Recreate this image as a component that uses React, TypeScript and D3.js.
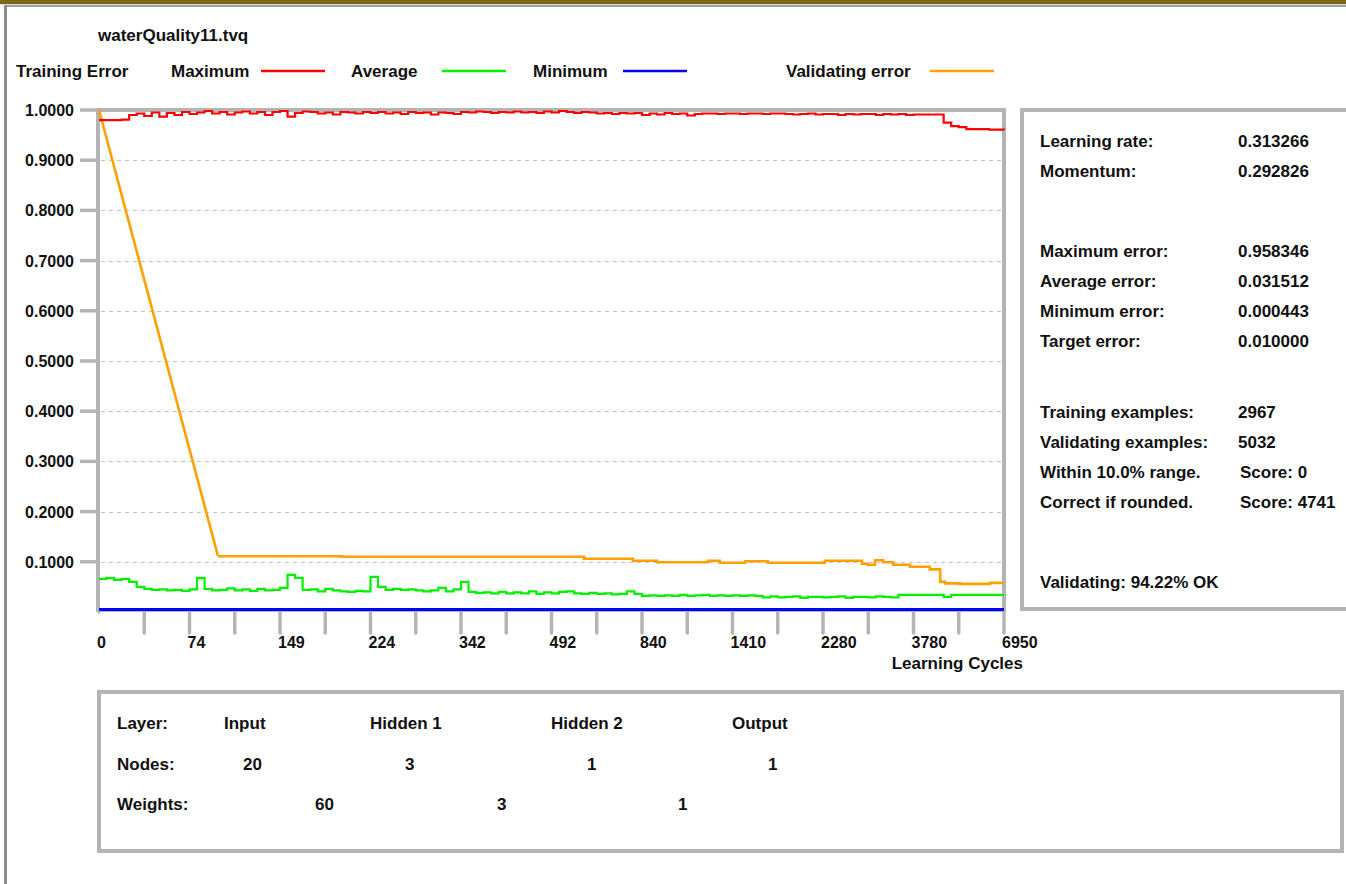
import * as d3 from "d3";

// x positions are in axis-tick units (0..20), the cycle axis is not linear
const xTickLabels = ["0", "74", "149", "224", "342", "492", "840", "1410", "2280", "3780", "6950"];
const yTickValues = [0.1, 0.2, 0.3, 0.4, 0.5, 0.6, 0.7, 0.8, 0.9, 1.0];

// training error, sampled every 1/6 tick
const maxError = [
  0.980, 0.980, 0.980, 0.981, 0.990, 0.993, 0.988, 0.995, 0.987, 0.994,
  0.990, 0.996, 0.992, 0.995, 0.998, 0.993, 0.996, 0.991, 0.995, 0.997,
  0.993, 0.996, 0.990, 0.996, 0.998, 0.987, 0.994, 0.997, 0.996, 0.993,
  0.995, 0.991, 0.996, 0.995, 0.993, 0.996, 0.994, 0.996, 0.993, 0.995,
  0.992, 0.996, 0.994, 0.995, 0.991, 0.995, 0.994, 0.992, 0.996, 0.995,
  0.997, 0.996, 0.994, 0.996, 0.995, 0.997, 0.995, 0.996, 0.994, 0.997,
  0.995, 0.998, 0.996, 0.994, 0.996, 0.995, 0.993, 0.994, 0.992, 0.994,
  0.993, 0.994, 0.990, 0.993, 0.991, 0.994, 0.992, 0.993, 0.989, 0.992,
  0.993, 0.993, 0.992, 0.993, 0.993, 0.992, 0.993, 0.993, 0.992, 0.993,
  0.993, 0.992, 0.991, 0.992, 0.993, 0.991, 0.992, 0.992, 0.990, 0.992,
  0.991, 0.992, 0.992, 0.990, 0.992, 0.991, 0.992, 0.990, 0.991, 0.991,
  0.991, 0.991, 0.975, 0.968, 0.966, 0.962, 0.962, 0.962, 0.961, 0.961,
  0.960,
];

const avgError = [
  0.066, 0.068, 0.064, 0.066, 0.060, 0.050, 0.046, 0.044, 0.045, 0.043,
  0.044, 0.042, 0.045, 0.068, 0.046, 0.043, 0.044, 0.047, 0.043, 0.045,
  0.042, 0.046, 0.043, 0.044, 0.048, 0.074, 0.068, 0.044, 0.045, 0.041,
  0.046, 0.043, 0.041, 0.040, 0.042, 0.041, 0.070, 0.050, 0.044, 0.046,
  0.044, 0.045, 0.043, 0.041, 0.043, 0.048, 0.041, 0.045, 0.060, 0.040,
  0.038, 0.039, 0.037, 0.040, 0.037, 0.039, 0.037, 0.041, 0.036, 0.039,
  0.037, 0.040, 0.041, 0.037, 0.036, 0.038, 0.036, 0.037, 0.035, 0.036,
  0.041, 0.036, 0.032, 0.033, 0.032, 0.033, 0.032, 0.034, 0.032, 0.033,
  0.034, 0.032, 0.033, 0.032, 0.033, 0.032, 0.033, 0.032, 0.029, 0.031,
  0.029, 0.030, 0.031, 0.028, 0.030, 0.030, 0.029, 0.030, 0.031, 0.028,
  0.030, 0.030, 0.029, 0.031, 0.030, 0.029, 0.034, 0.034, 0.034, 0.034,
  0.034, 0.034, 0.030, 0.034, 0.034, 0.034, 0.034, 0.034, 0.034, 0.034,
  0.034,
];

const minPos = [0, 20];
const minError = [0.005, 0.005];

// validating error: straight drop, then steps
const validPos = [
  0, 2.63, 5.37, 10.72, 11.8, 12.33, 13.46, 13.72, 14.28, 14.78, 16.04,
  16.86, 16.99, 17.15, 17.33, 17.55, 17.92, 18.36, 18.59, 18.7, 19.03, 19.69, 20,
];
const validError = [
  1.0, 0.111, 0.110, 0.106, 0.102, 0.099, 0.102, 0.098, 0.101, 0.098, 0.102,
  0.096, 0.094, 0.103, 0.099, 0.094, 0.090, 0.085, 0.060, 0.057, 0.056, 0.058, 0.058,
];

const legendItems = [
  { name: "Maximum", color: "#ff0000", tx: 171, lx: 261 },
  { name: "Average", color: "#00f000", tx: 351, lx: 442 },
  { name: "Minimum", color: "#0000ff", tx: 533, lx: 623 },
  { name: "Validating error", color: "#ffa000", tx: 786, lx: 930 },
];

const statLabels = [
  "Learning rate:", "Momentum:", "Maximum error:", "Average error:", "Minimum error:",
  "Target error:", "Training examples:", "Validating examples:", "Within 10.0% range.",
  "Correct if rounded.",
];
const statValues = [
  "0.313266", "0.292826", "0.958346", "0.031512", "0.000443",
  "0.010000", "2967", "5032", "Score: 0", "Score: 4741",
];
const validatingText = "Validating: 94.22% OK";

const layerNames = ["Input", "Hidden 1", "Hidden 2", "Output"];
const layerNodes = ["20", "3", "1", "1"];
const layerWeights = ["60", "3", "1"];

const FONT = "'Liberation Sans', Arial, Helvetica, sans-serif";
const FRAME = "#b4b4b4";

export default function App() {
  const x = d3.scaleLinear().domain([0, 20]).range([99, 1004]);
  const y = d3.scaleLinear().domain([0, 1]).range([612, 110]);
  const step = 20 / (maxError.length - 1);

  const stepLine = d3
    .line<number>()
    .x((_, i) => x(i * step))
    .y((d) => y(d))
    .curve(d3.curveStepAfter);

  const pairLine = d3
    .line<[number, number]>()
    .x((d) => x(d[0]))
    .y((d) => y(d[1]));
  const pairStep = d3
    .line<[number, number]>()
    .x((d) => x(d[0]))
    .y((d) => y(d[1]))
    .curve(d3.curveStepAfter);

  const validPairs: [number, number][] = validPos.map((p, i) => [p, validError[i]]);
  const validPath = (pairLine(validPairs.slice(0, 2)) ?? "") + (pairStep(validPairs.slice(1)) ?? "");
  const minPairs: [number, number][] = minPos.map((p, i) => [p, minError[i]]);

  const ticks = d3.range(0, 21);
  const bold = { fontFamily: FONT, fontWeight: 700, fill: "#111" } as const;
  const rowY = [147, 177, 257, 287, 317, 347, 418, 448, 478, 508];

  return (
    <svg
      width={1346}
      height={884}
      style={{ position: "absolute", left: 0, top: 0, display: "block", background: "#fff" }}
    >
      {/* window chrome */}
      <rect x={0} y={0} width={1346} height={4} fill="#7d6712" />
      <rect x={0} y={4} width={1346} height={1} fill="#dcdcdc" />
      <rect x={4} y={5} width={1342} height={2} fill="#a0a0a0" />
      <rect x={4} y={5} width={3} height={879} fill="#8c8c8c" />

      <text x={98} y={41} fontSize={17} {...bold}>waterQuality11.tvq</text>

      {/* legend */}
      <text x={16} y={77} fontSize={17} {...bold}>Training Error</text>
      {legendItems.map((d) => (
        <g key={d.name}>
          <text x={d.tx} y={77} fontSize={17} {...bold}>{d.name}</text>
          <line x1={d.lx} x2={d.lx + 64} y1={71} y2={71} stroke={d.color} strokeWidth={2.5} />
        </g>
      ))}

      {/* grid */}
      {yTickValues.slice(0, -1).map((v) => (
        <line
          key={v}
          x1={101}
          x2={1001}
          y1={Math.round(y(v)) + 0.5}
          y2={Math.round(y(v)) + 0.5}
          stroke="#c4c4c4"
          strokeDasharray="4,4"
        />
      ))}

      {/* y axis ticks + labels */}
      {yTickValues.map((v) => (
        <g key={v}>
          <line x1={80} x2={98} y1={y(v)} y2={y(v)} stroke={FRAME} strokeWidth={3.5} />
          <text x={74} y={y(v) + 6} fontSize={16} textAnchor="end" {...bold}>
            {d3.format(".4f")(v)}
          </text>
        </g>
      ))}

      {/* x axis ticks + labels */}
      {ticks.map((t) => (
        <line
          key={t}
          x1={x(t)}
          x2={x(t)}
          y1={t === 0 ? 612 : 611}
          y2={t === 0 ? 612 : 633}
          stroke={FRAME}
          strokeWidth={3.5}
          strokeLinecap="round"
        />
      ))}
      {xTickLabels.map((l, i) => (
        <text key={l} x={x(i * 2) - 2} y={648} fontSize={16} {...bold}>{l}</text>
      ))}
      <text x={1023} y={669} fontSize={17} textAnchor="end" {...bold}>Learning Cycles</text>

      {/* plot frame */}
      <rect x={98} y={110} width={906} height={500} fill="none" stroke={FRAME} strokeWidth={4} />

      {/* series */}
      <path d={stepLine(avgError) ?? ""} fill="none" stroke="#00f000" strokeWidth={2.2} />
      <path d={pairLine(minPairs) ?? ""} fill="none" stroke="#0000ff" strokeWidth={3.2} />
      <path d={validPath} fill="none" stroke="#ffa000" strokeWidth={2.6} />
      <path d={stepLine(maxError) ?? ""} fill="none" stroke="#ff0000" strokeWidth={2.2} />

      {/* stats panel */}
      <rect x={1022} y={110} width={400} height={499} fill="none" stroke={FRAME} strokeWidth={4} />
      {statLabels.map((l, i) => (
        <g key={l}>
          <text x={1040} y={rowY[i]} fontSize={17} {...bold}>{l}</text>
          <text x={i >= 8 ? 1240 : 1238} y={rowY[i]} fontSize={17} {...bold}>
            {statValues[i]}
          </text>
        </g>
      ))}
      <text x={1040} y={588} fontSize={17} {...bold}>{validatingText}</text>

      {/* network panel */}
      <rect x={99} y={692} width={1243} height={159} fill="none" stroke={FRAME} strokeWidth={4} />
      <text x={117} y={729} fontSize={17} {...bold}>Layer:</text>
      <text x={117} y={770} fontSize={17} {...bold}>Nodes:</text>
      <text x={117} y={810} fontSize={17} {...bold}>Weights:</text>
      {layerNames.map((n, i) => (
        <text key={n} x={[224, 370, 551, 732][i]} y={729} fontSize={17} {...bold}>{n}</text>
      ))}
      {layerNodes.map((n, i) => (
        <text key={i} x={[243, 405, 587, 768][i]} y={770} fontSize={17} {...bold}>{n}</text>
      ))}
      {layerWeights.map((n, i) => (
        <text key={i} x={[315, 497, 678][i]} y={810} fontSize={17} {...bold}>{n}</text>
      ))}
    </svg>
  );
}
